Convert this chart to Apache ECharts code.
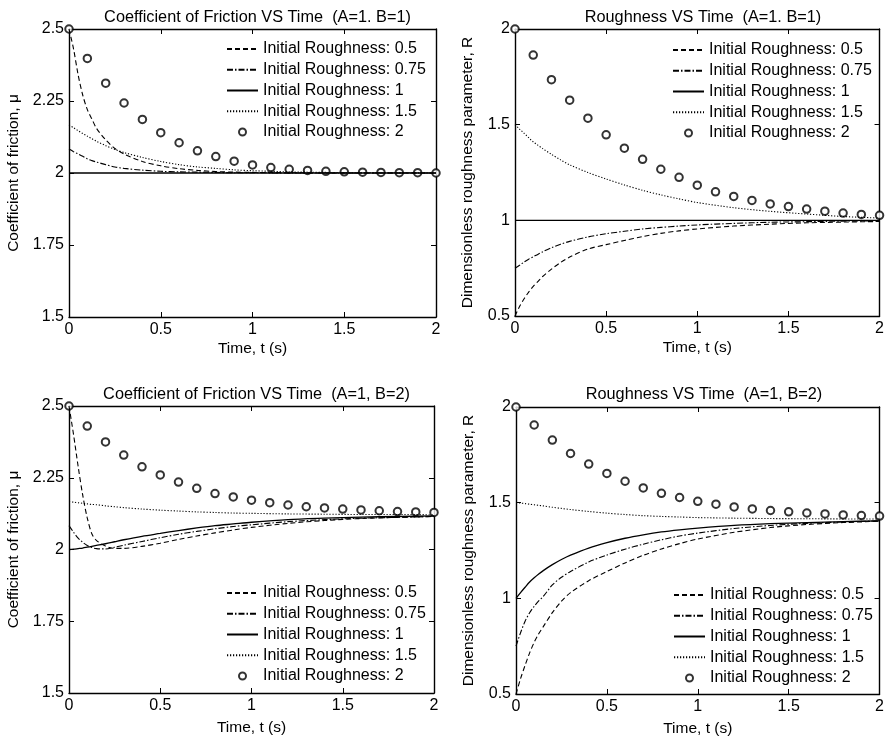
<!DOCTYPE html>
<html>
<head>
<meta charset="utf-8">
<script src="https://cdn.jsdelivr.net/npm/echarts@6/dist/echarts.min.js"></script>
<style>
  html, body { margin: 0; padding: 0; background: #fff; }
  #chart { width: 887px; height: 741px; }
</style>
</head>
<body>
<div id="chart"></div>
<script>
// Sample times: open circles every 0.1 s, curves on a finer grid near t = 0
const tMarks = [0, 0.1, 0.2, 0.3, 0.4, 0.5, 0.6, 0.7, 0.8, 0.9, 1.0, 1.1, 1.2, 1.3, 1.4, 1.5, 1.6, 1.7, 1.8, 1.9, 2.0];
const tLine = [0, 0.025, 0.05, 0.075, 0.1, 0.125, 0.15, 0.2, 0.25, 0.3, 0.4, 0.5, 0.6, 0.7, 0.8, 0.9, 1.0, 1.2, 1.4, 1.6, 1.8, 2.0];

const seriesNames = ['Initial Roughness: 0.5', 'Initial Roughness: 0.75', 'Initial Roughness: 1', 'Initial Roughness: 1.5', 'Initial Roughness: 2'];

// Coefficient of friction, A=1, B=1
const muB1_r050 = [2.5, 2.43, 2.34, 2.27, 2.22, 2.187, 2.155, 2.115, 2.085, 2.066, 2.04, 2.025, 2.015, 2.009, 2.005, 2.003, 2.002, 2.001, 2.0, 2.0, 2.0, 2.0];
const muB1_r075 = [2.083, 2.074, 2.066, 2.058, 2.049, 2.043, 2.038, 2.029, 2.021, 2.016, 2.01, 2.006, 2.004, 2.003, 2.002, 2.001, 2.001, 2.0, 2.0, 2.0, 2.0, 2.0];
const muB1_r100 = [2.0, 2.0, 2.0, 2.0, 2.0, 2.0, 2.0, 2.0, 2.0, 2.0, 2.0, 2.0, 2.0, 2.0, 2.0, 2.0, 2.0, 2.0, 2.0, 2.0, 2.0, 2.0];
const muB1_r150 = [2.167, 2.157, 2.147, 2.137, 2.128, 2.119, 2.110, 2.095, 2.082, 2.071, 2.054, 2.040, 2.029, 2.021, 2.016, 2.011, 2.008, 2.004, 2.002, 2.001, 2.001, 2.0];
const muB1_r200 = [2.5, 2.398, 2.312, 2.243, 2.186, 2.140, 2.105, 2.077, 2.057, 2.041, 2.028, 2.019, 2.013, 2.009, 2.006, 2.004, 2.003, 2.002, 2.001, 2.001, 2.0];

// Roughness, A=1, B=1
const rB1_r050 = [0.5, 0.55, 0.59, 0.625, 0.655, 0.68, 0.705, 0.745, 0.78, 0.808, 0.85, 0.873, 0.895, 0.915, 0.932, 0.945, 0.955, 0.97, 0.98, 0.987, 0.991, 0.994];
const rB1_r075 = [0.75, 0.765, 0.782, 0.797, 0.81, 0.822, 0.835, 0.857, 0.875, 0.89, 0.913, 0.93, 0.943, 0.955, 0.963, 0.97, 0.976, 0.984, 0.99, 0.993, 0.996, 0.997];
const rB1_r100 = [1, 1, 1, 1, 1, 1, 1, 1, 1, 1, 1, 1, 1, 1, 1, 1, 1, 1, 1, 1, 1, 1];
const rB1_r150 = [1.5, 1.477, 1.455, 1.432, 1.41, 1.393, 1.376, 1.345, 1.316, 1.29, 1.25, 1.216, 1.185, 1.157, 1.133, 1.112, 1.093, 1.066, 1.047, 1.033, 1.02, 1.012];
const rB1_r200 = [2.0, 1.864, 1.735, 1.628, 1.534, 1.447, 1.377, 1.319, 1.267, 1.225, 1.184, 1.149, 1.125, 1.104, 1.086, 1.072, 1.059, 1.048, 1.038, 1.031, 1.026];

// Coefficient of friction, A=1, B=2
const muB2_r050 = [2.5, 2.40, 2.29, 2.19, 2.11, 2.055, 2.032, 2.012, 2.004, 2.004, 2.011, 2.022, 2.035, 2.047, 2.058, 2.068, 2.077, 2.091, 2.101, 2.108, 2.112, 2.115];
const muB2_r075 = [2.083, 2.06, 2.04, 2.025, 2.014, 2.007, 2.003, 2.002, 2.008, 2.015, 2.028, 2.041, 2.053, 2.063, 2.072, 2.08, 2.086, 2.097, 2.104, 2.109, 2.112, 2.115];
const muB2_r100 = [2.0, 2.001, 2.003, 2.005, 2.008, 2.011, 2.014, 2.020, 2.027, 2.034, 2.046, 2.056, 2.066, 2.075, 2.083, 2.089, 2.095, 2.104, 2.109, 2.113, 2.115, 2.117];
const muB2_r150 = [2.167, 2.165, 2.163, 2.161, 2.159, 2.157, 2.156, 2.152, 2.149, 2.146, 2.141, 2.137, 2.134, 2.131, 2.129, 2.127, 2.126, 2.124, 2.123, 2.122, 2.122, 2.121];
const muB2_r200 = [2.5, 2.430, 2.375, 2.329, 2.288, 2.260, 2.235, 2.213, 2.195, 2.183, 2.172, 2.163, 2.155, 2.149, 2.145, 2.141, 2.138, 2.135, 2.132, 2.131, 2.129];

// Roughness, A=1, B=2
const rB2_r050 = [0.5, 0.58, 0.65, 0.715, 0.77, 0.815, 0.852, 0.925, 0.985, 1.03, 1.092, 1.14, 1.185, 1.225, 1.258, 1.286, 1.31, 1.345, 1.37, 1.386, 1.396, 1.403];
const rB2_r075 = [0.75, 0.82, 0.88, 0.925, 0.958, 0.987, 1.01, 1.07, 1.11, 1.14, 1.19, 1.226, 1.257, 1.283, 1.306, 1.326, 1.341, 1.365, 1.381, 1.392, 1.399, 1.405];
const rB2_r100 = [1.0, 1.03, 1.058, 1.085, 1.107, 1.127, 1.145, 1.176, 1.203, 1.226, 1.263, 1.291, 1.314, 1.332, 1.347, 1.358, 1.367, 1.381, 1.39, 1.396, 1.401, 1.405];
const rB2_r150 = [1.5, 1.498, 1.495, 1.492, 1.489, 1.486, 1.483, 1.476, 1.47, 1.464, 1.454, 1.445, 1.438, 1.432, 1.428, 1.425, 1.422, 1.419, 1.417, 1.416, 1.415, 1.415];
const rB2_r200 = [2.0, 1.906, 1.827, 1.757, 1.702, 1.653, 1.612, 1.577, 1.549, 1.527, 1.507, 1.492, 1.478, 1.467, 1.459, 1.452, 1.446, 1.441, 1.436, 1.433, 1.430];

const FONT = '"Liberation Sans", Arial, Helvetica, sans-serif';
const lineTypes = [[5, 3], [6, 2, 1.5, 2], 'solid', [1.2, 1.8]];

const panels = [
  { title: 'Coefficient of Friction VS Time  (A=1. B=1)', yName: 'Coefficient of friction, \u03bc',
    grid: { left: 69, top: 29, width: 367, height: 288 }, yMin: 1.5, yMax: 2.5, yStep: 0.25,
    lines: [muB1_r050, muB1_r075, muB1_r100, muB1_r150], marks: muB1_r200,
    titleTop: 5, xGap: 24, yGap: 47, legend: { left: 226, top: 40 } },
  { title: 'Roughness VS Time  (A=1. B=1)', yName: 'Dimensionless roughness parameter, R',
    grid: { left: 515, top: 29, width: 366, height: 287 }, yMin: 0.5, yMax: 2, yStep: 0.5,
    lines: [rB1_r050, rB1_r075, rB1_r100, rB1_r150], marks: rB1_r200,
    titleTop: 5, xGap: 24, yGap: 39, legend: { left: 672, top: 41 } },
  { title: 'Coefficient of Friction VS Time  (A=1, B=2)', yName: 'Coefficient of friction, \u03bc',
    grid: { left: 69, top: 406, width: 365, height: 287 }, yMin: 1.5, yMax: 2.5, yStep: 0.25,
    lines: [muB2_r050, muB2_r075, muB2_r100, muB2_r150], marks: muB2_r200,
    titleTop: 382, xGap: 27, yGap: 47, legend: { left: 226, top: 584 } },
  { title: 'Roughness VS Time  (A=1, B=2)', yName: 'Dimensionless roughness parameter, R',
    grid: { left: 516, top: 407, width: 366, height: 287 }, yMin: 0.5, yMax: 2, yStep: 0.5,
    lines: [rB2_r050, rB2_r075, rB2_r100, rB2_r150], marks: rB2_r200,
    titleTop: 382, xGap: 27, yGap: 39, legend: { left: 673, top: 586 } }
];

const blackLine = { color: '#000', width: 1.4 };
const tickStyle = { show: true, inside: true, length: 5, lineStyle: { color: '#000', width: 1 } };
const labelStyle = { color: '#000', fontSize: 16, fontFamily: FONT };
const nameStyle = { color: '#000', fontSize: 15.5, fontFamily: FONT };

const option = {
  animation: false,
  backgroundColor: '#fff',
  title: [], grid: [], xAxis: [], yAxis: [], legend: [], series: []
};

panels.forEach((p, i) => {
  const g = p.grid;
  option.grid.push({ left: g.left, top: g.top, width: g.width, height: g.height, containLabel: false });
  option.title.push({
    text: p.title, left: g.left + g.width / 2, top: p.titleTop, textAlign: 'center',
    textStyle: { fontSize: 16.3, fontWeight: 'normal', color: '#000', fontFamily: FONT }
  });
  const xBase = { gridIndex: i, type: 'value', min: 0, max: 2, interval: 0.5,
    axisLine: { show: true, onZero: false, lineStyle: blackLine }, axisTick: tickStyle, splitLine: { show: false } };
  option.xAxis.push(Object.assign({}, xBase, {
    position: 'bottom', axisLabel: Object.assign({ margin: 5 }, labelStyle),
    name: 'Time, t (s)', nameLocation: 'middle', nameGap: p.xGap, nameTextStyle: nameStyle
  }));
  option.xAxis.push(Object.assign({}, xBase, { position: 'top', axisLabel: { show: false } }));
  const yBase = { gridIndex: i, type: 'value', min: p.yMin, max: p.yMax, interval: p.yStep,
    axisLine: { show: true, onZero: false, lineStyle: blackLine }, axisTick: tickStyle, splitLine: { show: false } };
  option.yAxis.push(Object.assign({}, yBase, {
    position: 'left', axisLabel: Object.assign({ margin: 5 }, labelStyle),
    name: p.yName, nameLocation: 'middle', nameGap: p.yGap, nameRotate: 90, nameTextStyle: nameStyle
  }));
  option.yAxis.push(Object.assign({}, yBase, { position: 'right', axisLabel: { show: false } }));

  p.lines.forEach((vals, k) => {
    option.series.push({
      name: seriesNames[k], type: 'line', xAxisIndex: 2 * i, yAxisIndex: 2 * i,
      data: tLine.map((t, j) => [t, vals[j]]),
      symbol: 'none', smooth: 0.3, silent: true,
      lineStyle: { color: '#000', width: k === 2 ? 1.3 : 1.1, type: lineTypes[k] },
      itemStyle: { color: '#000' }
    });
  });
  option.series.push({
    name: seriesNames[4], type: 'scatter', xAxisIndex: 2 * i, yAxisIndex: 2 * i,
    data: tMarks.map((t, j) => [t, p.marks[j]]),
    symbol: 'emptyCircle', symbolSize: 7.5, silent: true,
    itemStyle: { color: '#000', borderColor: '#000', borderWidth: 1.4 }
  });

  option.legend.push({
    orient: 'vertical', left: p.legend.left, top: p.legend.top, padding: 0,
    itemWidth: 31, itemHeight: 7, itemGap: 2.75, selectedMode: false,
    textStyle: { color: '#000', fontSize: 16, fontFamily: FONT, lineHeight: 18 },
    data: seriesNames.map((n, k) => k < 4
      ? { name: n, itemStyle: { opacity: 0 } }
      : { name: n, icon: 'emptyCircle' })
  });
});

const chart = echarts.init(document.getElementById('chart'), null, { renderer: 'canvas' });
chart.setOption(option);
</script>
</body>
</html>
